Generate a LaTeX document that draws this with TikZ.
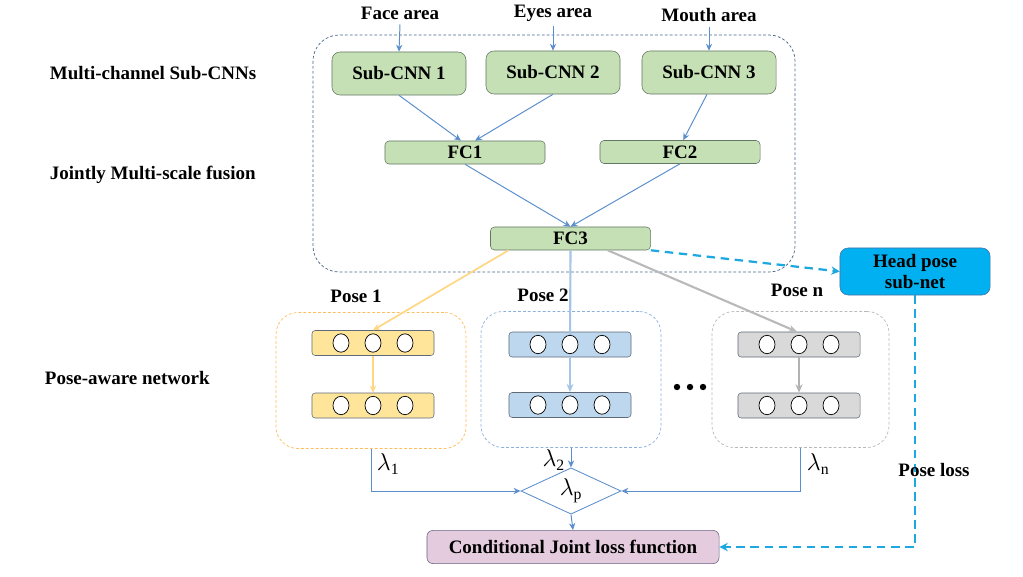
\documentclass[tikz,border=0pt]{standalone}
\usepackage{fontspec}
\setmainfont{Liberation Serif}
\usepgflibrary{arrows.meta}
\usetikzlibrary{positioning,shapes.geometric,backgrounds}

\definecolor{arrblue}{RGB}{91,142,205}
\definecolor{cnngreen}{RGB}{197,224,180}
\definecolor{cnnedge}{RGB}{100,118,100}
\definecolor{baryellow}{RGB}{255,229,153}
\definecolor{barblue}{RGB}{189,215,238}
\definecolor{bargray}{RGB}{217,217,217}
\definecolor{baredge}{RGB}{95,105,120}
\definecolor{headcyan}{RGB}{0,176,240}
\definecolor{dashcyan}{RGB}{30,168,224}
\definecolor{losspink}{RGB}{228,203,222}
\definecolor{lossedge}{RGB}{105,100,135}
\definecolor{frameedge}{RGB}{75,100,135}

\tikzset{
  lbl/.style={font=\bfseries\fontsize{13.5}{15}\selectfont},
  cnnbox/.style={draw=cnnedge, fill=cnngreen, rounded corners=0.2cm,
    minimum width=3.35cm, minimum height=1.075cm, lbl},
  fcbox/.style={draw=cnnedge, fill=cnngreen, rounded corners=0.1cm,
    minimum width=4cm, minimum height=0.575cm, inner sep=0pt, lbl},
  layerbar/.style={draw=baredge, rounded corners=0.08cm,
    minimum width=3.05cm, minimum height=0.625cm},
  posebox/.style={dashed, dash pattern=on 2pt off 1.5pt, line width=0.5pt,
    rounded corners=0.55cm, minimum height=3.4cm},
  arr/.style={arrblue, line width=0.7pt, -{Stealth[length=5pt,width=4.5pt]}},
  cyandash/.style={dashcyan, line width=1.6pt, dash pattern=on 6pt off 4pt},
}

\begin{document}
\begin{tikzpicture}[x=0.025cm, y=-0.025cm]
  \useasboundingbox (0,0) rectangle (1023,577);

  \draw[frameedge, line width=0.5pt, dash pattern=on 2pt off 1.5pt,
    rounded corners=0.65cm] (313,35) rectangle (795,272);

  \node[lbl] (face)  at (400,13) {Face area};
  \node[lbl] (eyes)  at (553,13) {Eyes area};
  \node[lbl] (mouth) at (709,15) {Mouth area};

  \node[lbl, anchor=west] (mcs) at (45,73)  {Multi-channel Sub-CNNs};
  \node[lbl, anchor=west] (jms) at (45,175) {Jointly Multi-scale fusion};
  \node[lbl, anchor=west] (pan) at (40,378) {Pose-aware network};

  \node[cnnbox] (cnn1) at (399,73.5) {Sub-CNN 1};
  \node[cnnbox] (cnn2) at (553,72.5) {Sub-CNN 2};
  \node[cnnbox] (cnn3) at (709,72.5) {Sub-CNN 3};

  \node[fcbox] (fc1) at (465,152.5) {FC1};
  \node[fcbox] (fc2) at (680,152)   {FC2};
  \node[fcbox] (fc3) at (570.5,238.5) {FC3};

  \draw[arr] (face.south) -- (cnn1.north);
  \draw[arr] (eyes.south) -- (cnn2.north);
  \draw[arr] (mouth.south) -- (cnn3.north);
  \draw[arr] (cnn1.south) -- ([xshift=-0.1cm]fc1.north);
  \draw[arr] (cnn2.south) -- ([xshift=0.25cm]fc1.north);
  \draw[arr] ([xshift=-0.05cm]cnn3.south) -- ([xshift=0.08cm]fc2.north);
  \draw[arr] (fc1.south) -- (fc3.north);
  \draw[arr] (fc2.south) -- (fc3.north);

  \node[draw=arrblue!80!black, fill=headcyan, rounded corners=0.2cm,
    minimum width=3.75cm, minimum height=1.175cm, align=center,
    inner sep=1pt, lbl, font=\bfseries\fontsize{13.5}{15.5}\selectfont]
    (head) at (915,271.5) {Head pose\\sub-net};

  % pose-aware branches
  \node[posebox, draw=baryellow!60!orange, minimum width=4.75cm] (p1box) at (371,380.5) {};
  \node[posebox, draw=arrblue!70, minimum width=4.5cm] (p2box) at (571,379.5) {};
  \node[posebox, draw=gray!55, minimum width=4.425cm] (pnbox) at (800.5,379.5) {};

  \node[lbl] (pose1) at (356,296) {Pose 1};
  \node[lbl] (pose2) at (543,295) {Pose 2};
  \node[lbl] (posen) at (797,290) {Pose n};

  \node[layerbar, fill=baryellow] (y1) at (373,343)   {};
  \node[layerbar, fill=baryellow] (y2) at (373,405.5) {};
  \node[layerbar, fill=barblue]   (b1) at (570,344.5) {};
  \node[layerbar, fill=barblue]   (b2) at (570,405)   {};
  \node[layerbar, fill=bargray]   (g1) at (799,344.5) {};
  \node[layerbar, fill=bargray]   (g2) at (799,405.5) {};

  \draw[barblue!75!arrblue, line width=1.5pt] (fc3.south) -- (b1.center);

  \foreach \b in {y1,y2,b1,b2,g1,g2}
    \foreach \dx in {-0.8,0,0.8}
      \draw[fill=white, line width=0.5pt] ([xshift=\dx cm]\b.center)
        ellipse [x radius=0.2cm, y radius=0.23cm];

  \foreach \x in {677,690,703}
    \fill (\x,387) circle [radius=3.2];

  \draw[barblue!75!arrblue, line width=1.5pt, -{Stealth[length=6pt,width=5pt]}]
    (b1.south) -- (b2.north);
  \draw[baryellow!85!orange, line width=1.2pt, -{Stealth[length=5pt,width=4.5pt]}]
    ([xshift=-1.55cm]fc3.south) -- (y1.north);
  \draw[baryellow!85!orange, line width=1.2pt, -{Stealth[length=5pt,width=4.5pt]}]
    (y1.south) -- (y2.north);
  \draw[gray!55, line width=1.5pt, -{Stealth[length=6pt,width=5pt]}]
    ([xshift=0.93cm]fc3.south) -- ([xshift=-0.05cm]g1.north);
  \draw[gray!60, line width=1.5pt, -{Stealth[length=6pt,width=5pt]}]
    (g1.south) -- (g2.north);

  % weighting and loss
  \node[diamond, draw=arrblue, line width=0.6pt, minimum width=2.5cm,
    minimum height=1.1cm, inner sep=0pt] (lamp) at (571,491)
    {\fontsize{16}{17}\selectfont$\lambda_{\mathrm{p}}$};

  \node[draw=lossedge, fill=losspink, rounded corners=0.15cm,
    minimum width=7.3cm, minimum height=0.83cm, lbl] (cond) at (573,547)
    {Conditional Joint loss function};

  \draw[arr] (p1box.south) |- (lamp.west);
  \draw[arr] (p2box.south) -- (lamp.north);
  \draw[arr] (pnbox.south) |- (lamp.east);
  \draw[arr] (lamp.south) -- (cond.north);

  \node[anchor=west, font=\fontsize{16}{17}\selectfont] (lam1) at (372,464) {$\lambda_{\mathrm{1}}$};
  \node[anchor=east, font=\fontsize{16}{17}\selectfont] (lam2) at (570,460) {$\lambda_{\mathrm{2}}$};
  \node[anchor=west, font=\fontsize{16}{17}\selectfont] (lamn) at (802,464) {$\lambda_{\mathrm{n}}$};

  \draw[cyandash, -{Stealth[length=6pt,width=6pt]}] (fc3.south east) -- (head.west);
  \draw[cyandash, -{Stealth[length=6pt,width=6pt]}] (head.south) |- (cond.east);
  \node[lbl] (ploss) at (934,470) {Pose loss};
\end{tikzpicture}
\end{document}
